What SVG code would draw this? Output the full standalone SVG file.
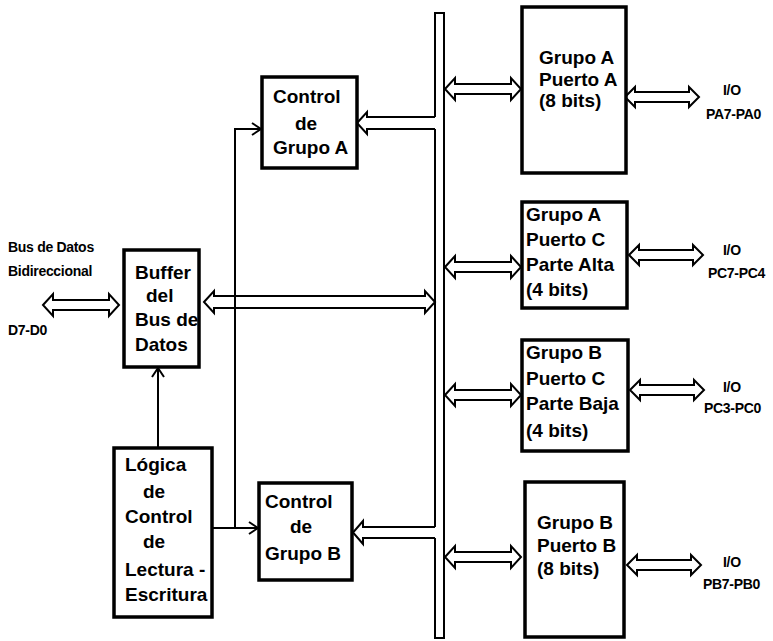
<svg xmlns="http://www.w3.org/2000/svg" width="773" height="641" viewBox="0 0 773 641">
<style>
.box{fill:#fff;stroke:#000;stroke-width:3.5}
.t{font-family:"Liberation Sans",Arial,sans-serif;font-weight:bold;font-size:19px;fill:#000}
.l{font-family:"Liberation Sans",Arial,sans-serif;font-weight:bold;font-size:14px;fill:#000;letter-spacing:-0.3px}
.ar{fill:#fff;stroke:#000;stroke-width:2;stroke-linejoin:miter}
.ln{fill:none;stroke:#000;stroke-width:2}
</style>
<defs>
<marker id="v" markerUnits="userSpaceOnUse" markerWidth="12" markerHeight="14" refX="10" refY="7" orient="auto">
<path d="M1,1 L10,7 L1,13" fill="none" stroke="#000" stroke-width="2"/>
</marker>
<path id="da76" d="M0,0 L10,-11 L10,-5 L66,-5 L66,-11 L76,0 L66,11 L66,5 L10,5 L10,11 Z"/>
<path id="da72" d="M0,0 L10,-10 L10,-5 L64,-5 L64,-10 L74,0 L64,10 L64,5 L10,5 L10,10 Z"/>
</defs>

<g id="connectors">
<g id="bus" class="ln">
<path d="M435,117 V13 H444 V638 H435 V538"/>
<path d="M435,527 V129"/>
</g>
<path class="ar" d="M435,117 L367,117 L367,112 L357,123 L367,134 L367,129 L435,129"/>
<path class="ar" d="M435,527 L363,527 L363,521 L353,532.5 L363,544 L363,538 L435,538"/>
<path class="ar" d="M204,302 L214,291 L214,296 L425,296 L425,291 L435,302 L425,313 L425,308 L214,308 L214,313 Z"/>
<use href="#da76" class="ar" x="43" y="305"/>
<use href="#da76" class="ar" x="445" y="89"/>
<use href="#da76" class="ar" x="445" y="267"/>
<use href="#da76" class="ar" x="445" y="395"/>
<use href="#da76" class="ar" x="445" y="557"/>
<use href="#da72" class="ar" x="625" y="97"/>
<use href="#da72" class="ar" x="629" y="255"/>
<use href="#da72" class="ar" x="630" y="390"/>
<use href="#da72" class="ar" x="627" y="565"/>
<path class="ln" d="M158,448 V368" marker-end="url(#v)"/>
<path class="ln" d="M212,528 H258" marker-end="url(#v)"/>
<path class="ln" d="M235,528 V129 H261" marker-end="url(#v)"/>
</g>

<g id="buffer">
<rect class="box" x="124" y="250" width="75" height="117"/>
<text class="t" x="135" y="279">Buffer</text>
<text class="t" x="146" y="302">del</text>
<text class="t" x="135" y="326">Bus de</text>
<text class="t" x="135" y="351">Datos</text>
</g>

<g id="logica">
<rect class="box" x="114" y="448" width="98" height="169"/>
<text class="t" x="125" y="471">Lógica</text>
<text class="t" x="143" y="498">de</text>
<text class="t" x="125" y="523">Control</text>
<text class="t" x="143" y="548">de</text>
<text class="t" x="125" y="576">Lectura -</text>
<text class="t" x="125" y="601">Escritura</text>
</g>

<g id="controlA">
<rect class="box" x="262" y="77" width="95" height="91"/>
<text class="t" x="273" y="103">Control</text>
<text class="t" x="295" y="130">de</text>
<text class="t" x="273" y="154">Grupo A</text>
</g>

<g id="controlB">
<rect class="box" x="259" y="483" width="93" height="97"/>
<text class="t" x="265" y="508">Control</text>
<text class="t" x="290" y="533">de</text>
<text class="t" x="265" y="560">Grupo B</text>
</g>

<g id="puertoA">
<rect class="box" x="522" y="7" width="104" height="166"/>
<text class="t" x="539" y="64">Grupo A</text>
<text class="t" x="539" y="86">Puerto A</text>
<text class="t" x="539" y="107">(8 bits)</text>
</g>

<g id="puertoCalta">
<rect class="box" x="522" y="202" width="105" height="106"/>
<text class="t" x="526" y="221">Grupo A</text>
<text class="t" x="526" y="246">Puerto C</text>
<text class="t" x="526" y="271">Parte Alta</text>
<text class="t" x="526" y="296">(4 bits)</text>
</g>

<g id="puertoCbaja">
<rect class="box" x="522" y="340" width="106" height="111"/>
<text class="t" x="526" y="359">Grupo B</text>
<text class="t" x="526" y="385">Puerto C</text>
<text class="t" x="526" y="410">Parte Baja</text>
<text class="t" x="526" y="437">(4 bits)</text>
</g>

<g id="puertoB">
<rect class="box" x="525" y="482" width="99" height="155"/>
<text class="t" x="537" y="529">Grupo B</text>
<text class="t" x="537" y="552">Puerto B</text>
<text class="t" x="537" y="575">(8 bits)</text>
</g>

<g id="labels">
<text class="l" x="8" y="252">Bus de Datos</text>
<text class="l" x="8" y="276">Bidireccional</text>
<text class="l" x="8" y="335">D7-D0</text>
<text class="l" x="723" y="95">I/O</text>
<text class="l" x="706" y="119">PA7-PA0</text>
<text class="l" x="723" y="255">I/O</text>
<text class="l" x="708" y="278">PC7-PC4</text>
<text class="l" x="723" y="392">I/O</text>
<text class="l" x="704" y="413">PC3-PC0</text>
<text class="l" x="723" y="567">I/O</text>
<text class="l" x="703" y="589">PB7-PB0</text>
</g>
</svg>
